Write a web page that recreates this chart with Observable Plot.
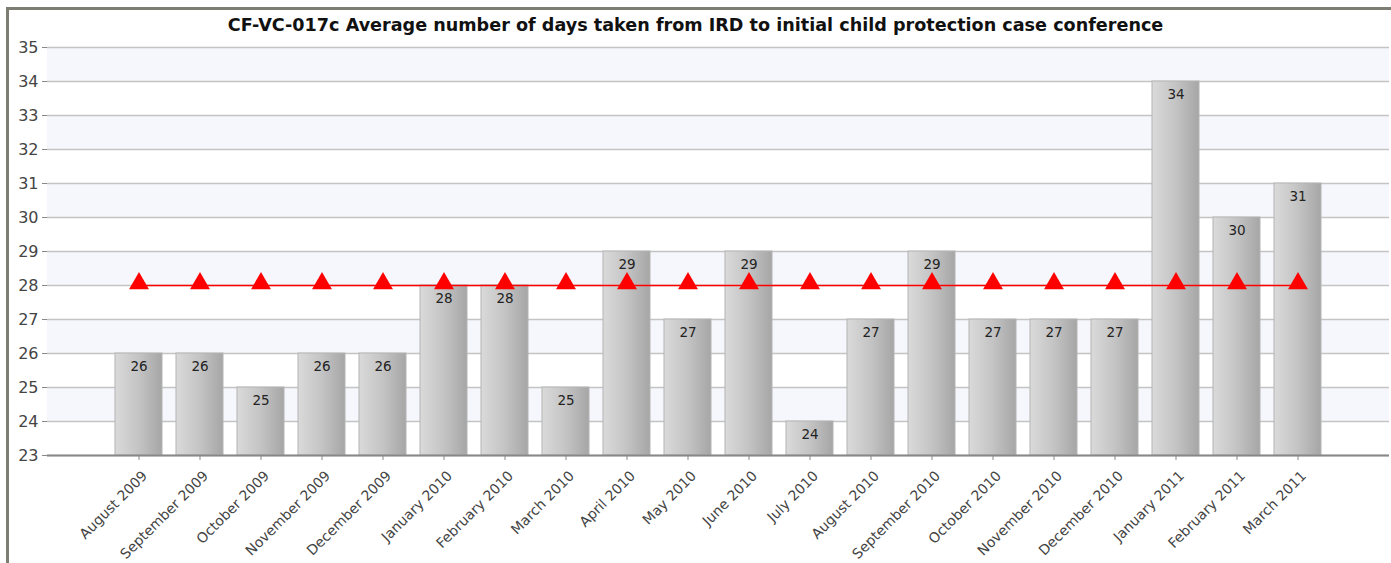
<!DOCTYPE html>
<html>
<head>
<meta charset="utf-8">
<script src="https://cdn.jsdelivr.net/npm/d3@7"></script>
<script src="https://cdn.jsdelivr.net/npm/@observablehq/plot@0.6"></script>
<style>
  html, body { margin: 0; padding: 0; background: #fff; }
  #wrap { position: relative; width: 1391px; height: 563px; overflow: hidden; }
  #topline { position: absolute; left: 6px; top: 7px; width: 1385px; height: 3px; background: #7d7d72; }
  #leftline { position: absolute; left: 6px; top: 7px; width: 3px; height: 556px; background: #7d7d72; }
  #title { position: absolute; left: 0; top: 15px; width: 1391px; text-align: center;
           font-family: "DejaVu Sans", sans-serif; font-weight: bold; font-size: 17.6px; line-height: 20px; color: #111; }
  #chart { position: absolute; left: 0; top: 38px; }
</style>
</head>
<body>
<div id="wrap">
  <div id="topline"></div>
  <div id="leftline"></div>
  <div id="title">CF-VC-017c Average number of days taken from IRD to initial child protection case conference</div>
  <div id="chart"></div>
</div>
<script>
const months = ["August 2009","September 2009","October 2009","November 2009","December 2009",
  "January 2010","February 2010","March 2010","April 2010","May 2010","June 2010","July 2010",
  "August 2010","September 2010","October 2010","November 2010","December 2010",
  "January 2011","February 2011","March 2011"];
const values = [26,26,25,26,26,28,28,25,29,27,29,24,27,29,27,27,27,34,30,31];
const targets = [28,28,28,28,28,28,28,28,28,28,28,28,28,28,28,28,28,28,28,28];
const yTicks = [23,24,25,26,27,28,29,30,31,32,33,34,35];
const bandLows = [24,26,28,30,32,34];
const yMin = 23, yMax = 35;

const data = months.map((m, i) => ({month: m, value: values[i], target: targets[i]}));
const bands = bandLows.map(b => ({y1: b, y2: b + 1}));

const plot = Plot.plot({
  width: 1391,
  height: 525,
  marginTop: 9,
  marginBottom: 108,
  marginLeft: 47,
  marginRight: 2,
  style: {fontFamily: "DejaVu Sans, sans-serif", background: "transparent"},
  x: {domain: months, paddingInner: 0.23, paddingOuter: 1.115, label: null},
  y: {domain: [yMin, yMax], label: null},
  marks: [
    Plot.rect(bands, {y1: "y1", y2: "y2", fill: "#f6f7fc"}),
    Plot.gridY(yTicks, {stroke: "#c4c4c4", strokeOpacity: 1, strokeWidth: 1.5}),
    Plot.barY(data, {x: "month", y1: () => yMin, y2: "value", fill: "url(#barGrad)", stroke: "#b4b4b4", strokeWidth: 1}),
    Plot.text(data, {x: "month", y: "value", text: d => String(d.value), dy: 13, fill: "#222", fontSize: 13.5}),
    Plot.line(data, {x: "month", y: "target", stroke: "#ff0000", strokeWidth: 1.5}),
    Plot.dot(data, {x: "month", y: "target", symbol: "triangle", r: 7.4, fill: "#ff0000", stroke: "none", dy: -2}),
    Plot.axisY(yTicks, {tickSize: 5, tickPadding: 4, stroke: "#888", fill: "#444", fontSize: 16, textStroke: "none"}),
    Plot.ruleX([0], {x: () => 0, frameAnchor: "left", stroke: "#999", strokeWidth: 1.5}),
    Plot.axisX({tickSize: 5, text: null, stroke: "#888"}),
    Plot.axisX({tickSize: 0, tickPadding: 7, tickRotate: -45, fill: "#444", fontSize: 14, dx: 6, dy: 11}),
    Plot.ruleY([yMin], {stroke: "#888", strokeWidth: 2})
  ]
});

const svgNS = "http://www.w3.org/2000/svg";
const defs = document.createElementNS(svgNS, "defs");
defs.innerHTML = `<linearGradient id="barGrad" x1="0" x2="1" y1="0" y2="0">
  <stop offset="0" stop-color="#dadada"/>
  <stop offset="0.5" stop-color="#c4c4c4"/>
  <stop offset="1" stop-color="#a6a6a6"/>
</linearGradient>`;
plot.insertBefore(defs, plot.firstChild);
document.getElementById("chart").appendChild(plot);
</script>
</body>
</html>
